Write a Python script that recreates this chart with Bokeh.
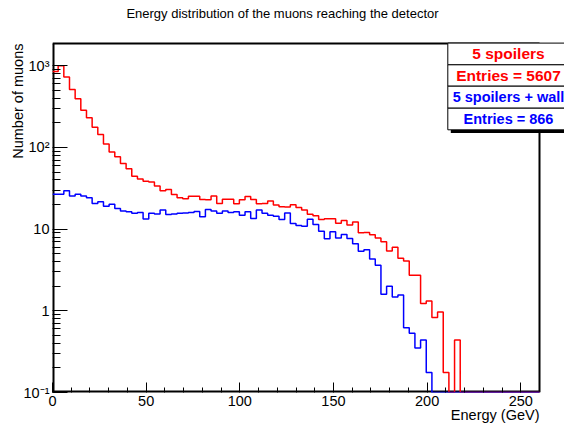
import math
from bokeh.plotting import figure
from bokeh.models import Label, BoxAnnotation, FixedTicker, Title
from bokeh.embed import file_html
from bokeh.resources import INLINE

# ---------------- data ----------------
title_text = "Energy distribution of the muons reaching the detector"
x_label = "Energy (GeV)"
y_label = "Number of muons"

x_min, x_max, n_bins = 0.0, 260.0, 86
y_min, y_max = 0.1, 1870.0

# "5 spoilers" (red), counts per bin
red_counts = [
    850, 1000, 728, 510, 394, 285, 231, 176, 144, 110,
    88, 76.7, 63.7, 54.7, 44.5, 41.0, 38.4, 37.6, 33.6, 29.4,
    30.6, 26.6, 24.2, 23.6, 25.2, 25.2, 23.1, 22.9, 25.4, 20.6,
    23.2, 23.2, 20.4, 22.9, 25.0, 23.1, 20.4, 20.6, 22.1, 19.7,
    18.8, 18.6, 19.8, 18.4, 17.1, 15.2, 14.6, 13.1, 13.4, 13.4,
    11.8, 12.7, 11.2, 12.2, 9.0, 9.1, 8.5, 7.8, 7.0, 5.4,
    6.0, 4.4, 4.06, 2.73, 2.73, 1.23, 1.32, 0.83, 0.97, 0.176,
    0, 0.44, 0, 0, 0, 0, 0, 0, 0, 0,
    0, 0, 0, 0, 0, 0,
]

# "5 spoilers + wall" (blue), counts per bin
blue_counts = [
    26.8, 26.8, 29.4, 25.4, 26.8, 25.4, 24.2, 20.6, 21.6, 19.1,
    20.2, 17.9, 16.7, 16.3, 15.6, 16.0, 13.3, 15.6, 15.3, 17.1,
    15.1, 15.3, 15.6, 15.7, 16.0, 16.4, 14.2, 17.4, 16.7, 15.6,
    16.6, 16.0, 16.3, 14.8, 16.3, 13.5, 17.1, 15.6, 14.8, 14.4,
    13.1, 15.7, 11.7, 11.1, 10.8, 13.2, 11.4, 9.4, 7.6, 9.3,
    7.8, 8.6, 7.7, 6.6, 5.35, 5.6, 4.3, 3.6, 1.59, 2.0,
    1.48, 1.56, 0.62, 0.53, 0.35, 0.44, 0.176, 0, 0, 0,
    0, 0, 0, 0, 0, 0, 0, 0, 0, 0,
    0, 0, 0, 0, 0, 0,
]

legend_rows = ["5 spoilers", "Entries = 5607", "5 spoilers + wall", "Entries = 866"]
legend_colors = ["#ff0000", "#ff0000", "#0000ff", "#0000ff"]
legend_sizes = ["15.5px", "15.5px", "14.5px", "14.5px"]

x_major_ticks = [0, 50, 100, 150, 200, 250]
x_minor_step = 10
y_major_ticks = [0.1, 1, 10, 100, 1000]
y_tick_labels = ["10\u207b\u00b9", "1", "10", "10\u00b2", "10\u00b3"]

# ---------------- layout (canvas pixels) ----------------
W, H = 564, 428
FL, FR, FT, FB = 52, 539, 43, 392      # the drawn (ROOT-style) frame
FONT = "Liberation Sans"

x_px = (FR - FL) / (x_max - x_min)
dec_px = (FB - FT) / (math.log10(y_max) - math.log10(y_min))
# bokeh frame covers everything right of / above the axes
xr_end = x_max + (W - FR) / x_px
yr_end = 10 ** (math.log10(y_min) + FB / dec_px)

def dx(cx):
    return x_min + (cx - FL) / x_px
def dy(cy):
    return 10 ** (math.log10(y_min) + (FB - cy) / dec_px)

p = figure(width=W, height=H, x_range=(x_min, xr_end), y_range=(y_min, yr_end),
           y_axis_type="log", output_backend="svg", toolbar_location=None,
           min_border_left=FL, min_border_right=0, min_border_top=0,
           min_border_bottom=H - FB,
           background_fill_color="white", border_fill_color="white",
           outline_line_color=None)
p.xgrid.visible = False
p.ygrid.visible = False

# ---------------- frame ----------------
p.line([x_min, x_max], [y_max, y_max], line_color="black", line_width=2)
p.line([x_max, x_max], [y_min, y_max], line_color="black", line_width=2)
p.line([x_min, x_min], [y_min, y_max], line_color="black", line_width=4)
p.line([x_min, x_max], [y_min, y_min], line_color="black", line_width=4)

# ---------------- histograms ----------------
bin_width = (x_max - x_min) / n_bins
edges = [x_min + i * bin_width for i in range(n_bins + 1)]

def step_xy(counts):
    xs, ys = [], []
    for i, c in enumerate(counts):
        v = c if c > 0 else y_min
        xs += [edges[i], edges[i + 1]]
        ys += [v, v]
    return xs, ys

rx, ry = step_xy(red_counts)
bx, by = step_xy(blue_counts)
p.line(rx, ry, line_color="#ff0000", line_width=1.5)
p.line(bx, by, line_color="#0000ff", line_width=1.5)

# ---------------- axes ----------------
x_minor = [v for v in range(int(x_min), int(x_max), x_minor_step) if v not in x_major_ticks]
p.xaxis.ticker = FixedTicker(ticks=x_major_ticks, minor_ticks=x_minor)
minor_y = [m * t for t in y_major_ticks[:-1] for m in range(2, 10)]
p.yaxis.ticker = FixedTicker(ticks=y_major_ticks, minor_ticks=minor_y)
p.yaxis.major_label_overrides = {t: l for t, l in zip(y_major_ticks, y_tick_labels)}

for ax in (p.xaxis, p.yaxis):
    ax.axis_line_color = None
    ax.major_tick_line_color = "black"
    ax.minor_tick_line_color = "black"
    ax.major_tick_out = 0
    ax.minor_tick_out = 0
    ax.major_label_text_font = FONT
    ax.major_label_text_font_size = "14.5px"
    ax.major_label_text_color = "black"
    ax.major_label_standoff = 3

p.xaxis.major_tick_in = 10
p.xaxis.minor_tick_in = 5
p.yaxis.major_tick_in = 15
p.yaxis.minor_tick_in = 8

# ---------------- texts ----------------
p.add_layout(Label(x=dx(282), y=dy(12.5), text=title_text, text_align="center",
                   text_baseline="alphabetic", text_font=FONT, text_font_size="13px",
                   text_color="black"))
p.add_layout(Title(text=y_label, align="right", offset=FT, standoff=-10,
                   text_font=FONT, text_font_size="14.5px", text_font_style="normal",
                   text_color="black"), "left")
p.add_layout(Title(text=x_label, align="right", offset=W - FR, standoff=-8,
                   text_font=FONT, text_font_size="14.5px", text_font_style="normal",
                   text_color="black"), "below")

# ---------------- legend ----------------
row_px = [42.6, 64.3, 85.7, 107.7, 129.3]
box_left, box_right = 447.3, 569
p.add_layout(BoxAnnotation(left=dx(box_left + 3), right=dx(box_right + 3),
                           top=dy(row_px[-1]), bottom=dy(row_px[-1] + 3.2),
                           fill_color="black", fill_alpha=1, line_color="black",
                           line_alpha=1, line_width=0))
for i in range(4):
    p.add_layout(BoxAnnotation(left=dx(box_left), right=dx(box_right),
                               top=dy(row_px[i]), bottom=dy(row_px[i + 1]),
                               fill_color="white", fill_alpha=1,
                               line_color="black", line_alpha=1, line_width=1))
for i, (txt, col, fs) in enumerate(zip(legend_rows, legend_colors, legend_sizes)):
    cy = (row_px[i] + row_px[i + 1]) / 2
    p.add_layout(Label(x=dx(508), y=dy(cy), text=txt, text_align="center",
                       text_baseline="middle", text_font=FONT, text_font_size=fs,
                       text_font_style="bold", text_color=col))

open("out.html", "w").write(file_html(p, INLINE))
